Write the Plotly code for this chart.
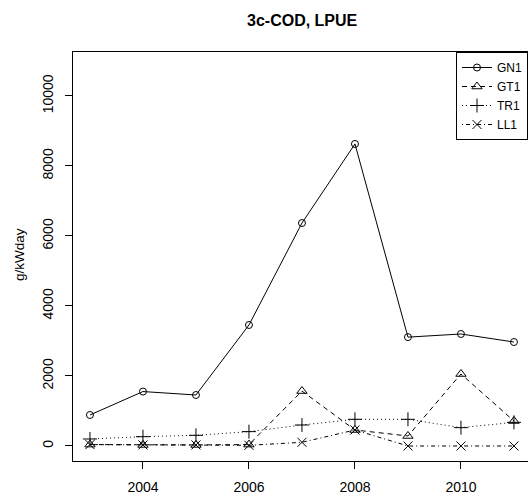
import plotly.graph_objects as go

years = [2003, 2004, 2005, 2006, 2007, 2008, 2009, 2010, 2011]
gn1 = [886, 1555, 1457, 3457, 6370, 8630, 3110, 3200, 2970]
gt1 = [40, 30, 30, 40, 1570, 457, 286, 2057, 714]
tr1 = [200, 266, 305, 410, 600, 762, 762, 524, 676]
ll1 = [40, 30, 30, 20, 105, 457, 0, 0, 0]
ytick_vals = [0, 2000, 4000, 6000, 8000, 10000]
ytick_text = ["0", "2000", "4000", "6000", "8000", "10000"]
xtick_vals = [2004, 2006, 2008, 2010]

series = [
    ("GN1", gn1, "solid", "circle-open", 7),
    ("GT1", gt1, "5px,4px", "triangle-up-open", 9),
    ("TR1", tr1, "1px,3px", "cross-thin-open", 10),
    ("LL1", ll1, "1px,3px,4px,3px", "x-thin-open", 9),
]

fig = go.Figure()
for name, vals, dash, sym, sz in series:
    fig.add_trace(go.Scatter(
        x=years, y=vals, name=name, mode="lines+markers",
        line=dict(color="black", width=1, dash=dash),
        marker=dict(symbol=sym, size=sz, color="black",
                    line=dict(color="black", width=1)),
    ))

W, H = 528, 494
L, R, T, B = 73, 0, 52, 33
pw, ph = W - L - R, H - T - B

fig.update_layout(
    width=W, height=H,
    margin=dict(l=L, r=R, t=T, b=B),
    plot_bgcolor="white", paper_bgcolor="white",
    font=dict(family="Liberation Sans, Arial, sans-serif", size=14, color="black"),
    showlegend=True,
    legend=dict(x=(456 - L) / pw, y=1, xanchor="left", yanchor="top",
                bgcolor="white", bordercolor="black", borderwidth=1,
                itemwidth=30, tracegroupgap=0,
                font=dict(size=12)),
    annotations=[
        dict(text="<b>3c-COD, LPUE</b>", x=(302 - L) / pw, y=(H - B - 20) / ph,
             xref="paper", yref="paper", xanchor="center", yanchor="middle",
             showarrow=False, font=dict(size=16)),
        dict(text="g/kWday", x=(19 - L) / pw, y=(H - B - 255) / ph,
             xref="paper", yref="paper", xanchor="center", yanchor="middle",
             showarrow=False, textangle=-90, font=dict(size=13.5)),
    ],
)

fig.update_xaxes(range=[2002.68, 2011.265], tickvals=xtick_vals,
                 ticks="outside", ticklen=7, tickcolor="black", automargin=False,
                 ticklabelstandoff=6,
                 showline=True, linecolor="black", linewidth=1, mirror=True,
                 showgrid=False, zeroline=False)
fig.update_yaxes(range=[-429, 11257], tickvals=ytick_vals, ticktext=ytick_text,
                 tickangle=-90, ticks="outside", ticklen=7, tickcolor="black", automargin=False,
                 ticklabelstandoff=6,
                 showline=True, linecolor="black", linewidth=1,
                 showgrid=False, zeroline=False)
fig.write_html("out.html", config={"displayModeBar": False},
               post_script="document.body.style.margin='0px';document.body.style.overflow='hidden';")
